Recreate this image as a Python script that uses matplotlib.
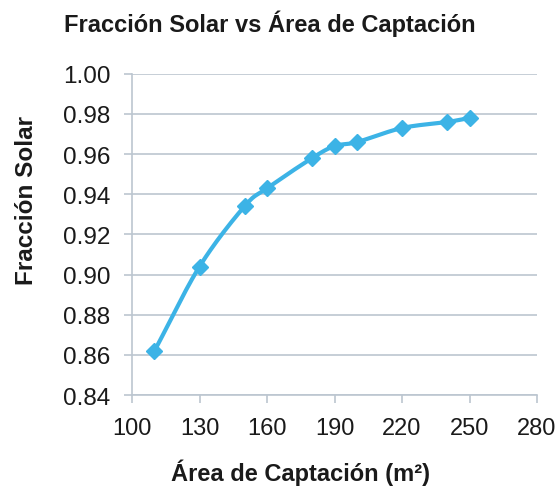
import numpy as np
import matplotlib
matplotlib.use("Agg")
import matplotlib.pyplot as plt

plt.rcParams['font.family'] = ['Liberation Sans', 'DejaVu Sans']

# Collector area (m²) and resulting solar fraction
area = [110, 130, 150, 160, 180, 190, 200, 220, 240, 250]
fraccion = [0.862, 0.904, 0.934, 0.943, 0.958, 0.964, 0.966, 0.973, 0.976, 0.978]

x_ticks = [100, 130, 160, 190, 220, 250, 280]
y_ticks = [0.84, 0.86, 0.88, 0.90, 0.92, 0.94, 0.96, 0.98, 1.00]

line_color = '#3cb3e6'
grid_color = '#bcc6d0'
text_color = '#1a1a1a'


def smooth_curve(xs, ys, n=30):
    """Catmull-Rom curve through the given points (for a smoothed line)."""
    xs = np.asarray(xs, float)
    ys = np.asarray(ys, float)
    px = np.concatenate([[2 * xs[0] - xs[1]], xs, [2 * xs[-1] - xs[-2]]])
    py = np.concatenate([[2 * ys[0] - ys[1]], ys, [2 * ys[-1] - ys[-2]]])
    out_x, out_y = [], []
    t = np.linspace(0, 1, n, endpoint=False)
    for i in range(1, len(px) - 2):
        for arr, out in ((px, out_x), (py, out_y)):
            p0, p1, p2, p3 = arr[i - 1], arr[i], arr[i + 1], arr[i + 2]
            out.extend(0.5 * ((2 * p1) + (-p0 + p2) * t
                              + (2 * p0 - 5 * p1 + 4 * p2 - p3) * t ** 2
                              + (-p0 + 3 * p1 - 3 * p2 + p3) * t ** 3))
    out_x.append(xs[-1])
    out_y.append(ys[-1])
    return np.array(out_x), np.array(out_y)


fig = plt.figure(figsize=(5.6, 4.89), dpi=100)
ax = fig.add_axes([0.2357, 0.190, 0.7233, 0.657])

cx, cy = smooth_curve(area, fraccion)
ax.plot(cx, cy, color=line_color, lw=3.0, zorder=3, solid_capstyle='round')
ax.plot(area, fraccion, linestyle='none', marker='D', markersize=8.5,
        color=line_color, zorder=4)

ax.set_xlim(100, 280)
ax.set_ylim(0.84, 1.00)
ax.set_xticks(x_ticks)
ax.set_yticks(y_ticks)
ax.set_xticklabels([str(v) for v in x_ticks])
ax.set_yticklabels([f"{v:.2f}" for v in y_ticks])

ax.grid(axis='y', color=grid_color, lw=1.2, zorder=1)
ax.set_axisbelow(True)
for side in ('top', 'right'):
    ax.spines[side].set_visible(False)
for side in ('left', 'bottom'):
    ax.spines[side].set_color(grid_color)
    ax.spines[side].set_linewidth(1.2)

ax.tick_params(axis='both', direction='out', length=6, width=1.2,
               color=grid_color, labelcolor=text_color, pad=9.5)
ax.tick_params(axis='x', labelsize=17)
ax.tick_params(axis='y', labelsize=17.5)

fig.text(0.482, 0.951, 'Fracción Solar vs Área de Captación', ha='center',
         va='center', fontsize=17, fontweight='bold', color=text_color)
fig.text(0.048, 0.591, 'Fracción Solar', rotation=90, ha='center',
         va='center', fontsize=17.5, fontweight='bold', color=text_color)
fig.text(0.536, 0.033, 'Área de Captación (m²)', ha='center', va='center',
         fontsize=17, fontweight='bold', color=text_color)

fig.savefig('out.png', dpi=100, facecolor='white')
